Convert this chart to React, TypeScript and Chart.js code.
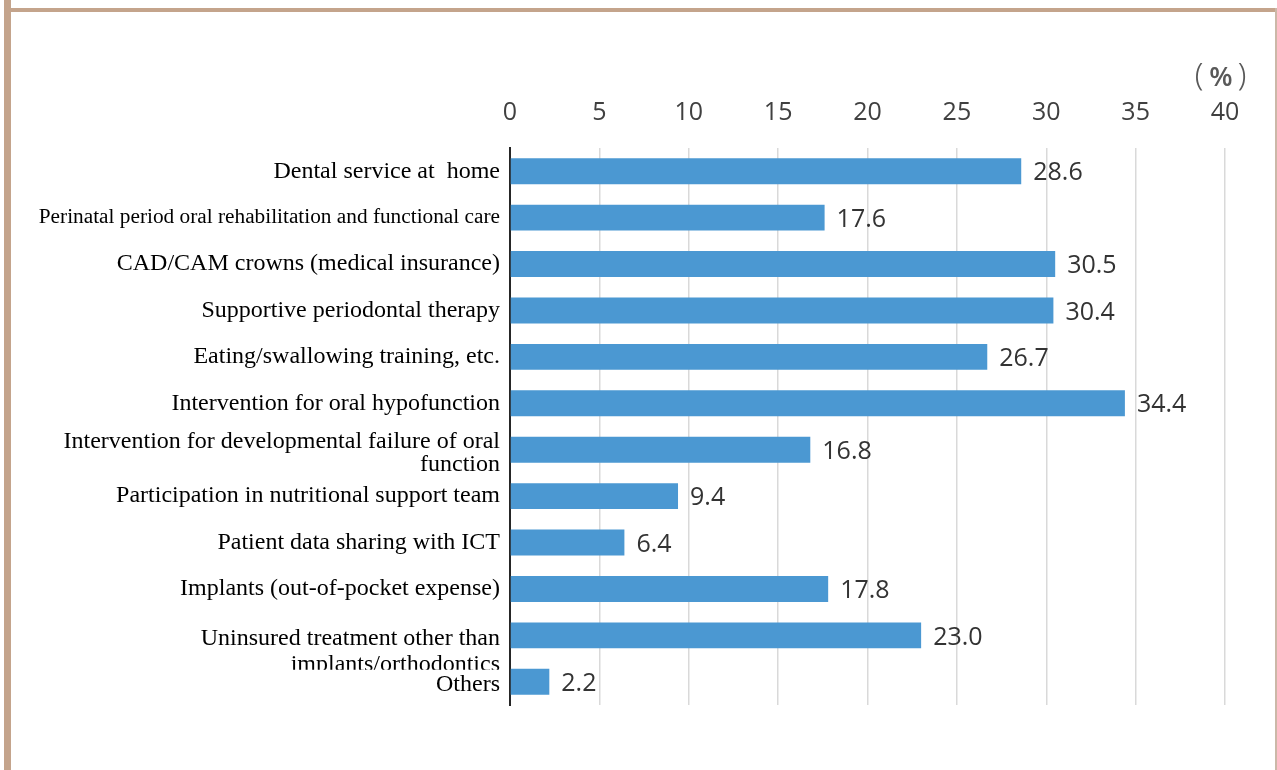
import React, { useEffect, useRef } from "react";
import { Chart, registerables } from "chart.js";
Chart.register(...registerables);

const categories = [
  "Dental service at  home",
  "Perinatal period oral rehabilitation and functional care",
  "CAD/CAM crowns (medical insurance)",
  "Supportive periodontal therapy",
  "Eating/swallowing training, etc.",
  "Intervention for oral hypofunction",
  "Intervention for developmental failure of oral function",
  "Participation in nutritional support team",
  "Patient data sharing with ICT",
  "Implants (out-of-pocket expense)",
  "Uninsured treatment other than implants/orthodontics",
  "Others",
];
const categoryLines = [
  ["Dental service at  home"],
  ["Perinatal period oral rehabilitation and functional care"],
  ["CAD/CAM crowns (medical insurance)"],
  ["Supportive periodontal therapy"],
  ["Eating/swallowing training, etc."],
  ["Intervention for oral hypofunction"],
  ["Intervention for developmental failure of oral", "function"],
  ["Participation in nutritional support team"],
  ["Patient data sharing with ICT"],
  ["Implants (out-of-pocket expense)"],
  ["Uninsured treatment other than", "implants/orthodontics"],
  ["Others"],
];
const values = [28.6, 17.6, 30.5, 30.4, 26.7, 34.4, 16.8, 9.4, 6.4, 17.8, 23.0, 2.2];
const xMin = 0;
const xMax = 40;
const xStep = 5;
const unitParts = ["(", "%", ")"];

const SERIF = '"Liberation Serif", "Times New Roman", serif';
const SANS = '"Open Sans", "Noto Sans", sans-serif';

const yLabelPlugin = {
  id: "yLabels",
  afterDraw(chart: any) {
    const ctx = chart.ctx;
    const ys = chart.scales.y;
    const right = chart.chartArea.left - 10;
    const last = categoryLines.length - 1;
    ctx.save();
    ctx.fillStyle = "#000";
    ctx.textAlign = "right";
    ctx.textBaseline = "middle";
    categoryLines.forEach((lines, i) => {
      const cy = ys.getPixelForValue(i);
      const size = i === 1 ? 21.3 : 24;
      ctx.font = `${size}px ${SERIF}`;
      ctx.save();
      if (i === last - 1) {
        const clipY = ys.getPixelForValue(i + 1) - 12;
        ctx.beginPath();
        ctx.rect(0, 0, chart.width, clipY);
        ctx.clip();
      }
      if (lines.length === 1) {
        ctx.fillText(lines[0], right, i === last ? cy + 3 : cy);
      } else if (i === 6) {
        const lh = 23;
        lines.forEach((t, k) => ctx.fillText(t, right, cy + 3 - lh / 2 + k * lh));
      } else {
        const lh = 26;
        lines.forEach((t, k) => ctx.fillText(t, right, cy + 3 + k * lh));
      }
      ctx.restore();
    });
    ctx.restore();
  },
};

const valueLabelPlugin = {
  id: "valueLabels",
  afterDatasetsDraw(chart: any) {
    const ctx = chart.ctx;
    const meta = chart.getDatasetMeta(0);
    ctx.save();
    ctx.fillStyle = "#333";
    ctx.font = `25px ${SANS}`;
    ctx.textAlign = "left";
    ctx.textBaseline = "middle";
    meta.data.forEach((el: any, i: number) => {
      ctx.fillText(values[i].toFixed(1), el.x + 12, el.y + 2);
    });
    ctx.restore();
  },
};

const unitPlugin = {
  id: "unitLabel",
  afterDraw(chart: any) {
    const ctx = chart.ctx;
    const xs = chart.scales.x;
    const cx = xs.getPixelForValue(xMax);
    ctx.save();
    ctx.fillStyle = "#595959";
    ctx.textAlign = "center";
    ctx.textBaseline = "middle";
    ctx.font = `300 31px "Noto Sans", ${SANS}`;
    ctx.fillText(unitParts[0], cx - 26, 76);
    ctx.fillText(unitParts[2], cx + 17, 76);
    ctx.font = `600 27px ${SANS}`;
    ctx.fillText(unitParts[1], cx - 4, 78);
    ctx.restore();
  },
};

export default function App() {
  const ref = useRef<HTMLCanvasElement | null>(null);
  useEffect(() => {
    if (!ref.current) return;
    const chart = new Chart(ref.current, {
      type: "bar",
      data: {
        labels: categories,
        datasets: [
          {
            data: values,
            backgroundColor: "#4b98d2",
            borderWidth: 0,
            categoryPercentage: 1,
            barPercentage: 0.56,
          },
        ],
      },
      options: {
        indexAxis: "y",
        responsive: false,
        animation: false,
        layout: { padding: { left: 0, top: 0, right: 52, bottom: 65 } },
        plugins: { legend: { display: false }, tooltip: { enabled: false } },
        scales: {
          x: {
            position: "top",
            min: xMin,
            max: xMax,
            ticks: {
              stepSize: xStep,
              font: { family: SANS, size: 25 },
              color: "#404040",
              padding: 20,
            },
            grid: { color: "#d9d9d9", lineWidth: 1.5, drawTicks: false },
            border: { display: false },
            afterFit: (s: any) => {
              s.height = 148;
            },
          },
          y: {
            ticks: { display: false },
            grid: { display: false },
            border: { display: true, color: "#262626", width: 2 },
            afterFit: (s: any) => {
              s.width = 510;
            },
          },
        },
      },
      plugins: [valueLabelPlugin, yLabelPlugin, unitPlugin],
    });
    return () => chart.destroy();
  }, []);

  return (
    <div style={{ position: "absolute", left: 0, top: 0, width: 1277, height: 770, background: "#fff", overflow: "hidden" }}>
      <div style={{ position: "absolute", left: 4, top: 0, width: 7, height: 770, background: "#c4a48c" }} />
      <div style={{ position: "absolute", left: 4, top: 8, width: 1273, height: 4, background: "#c4a48c" }} />
      <div style={{ position: "absolute", left: 1275, top: 8, width: 2, height: 762, background: "#cbb8a8" }} />
      <canvas ref={ref} width={1277} height={770} style={{ position: "absolute", left: 0, top: 0 }} />
    </div>
  );
}
